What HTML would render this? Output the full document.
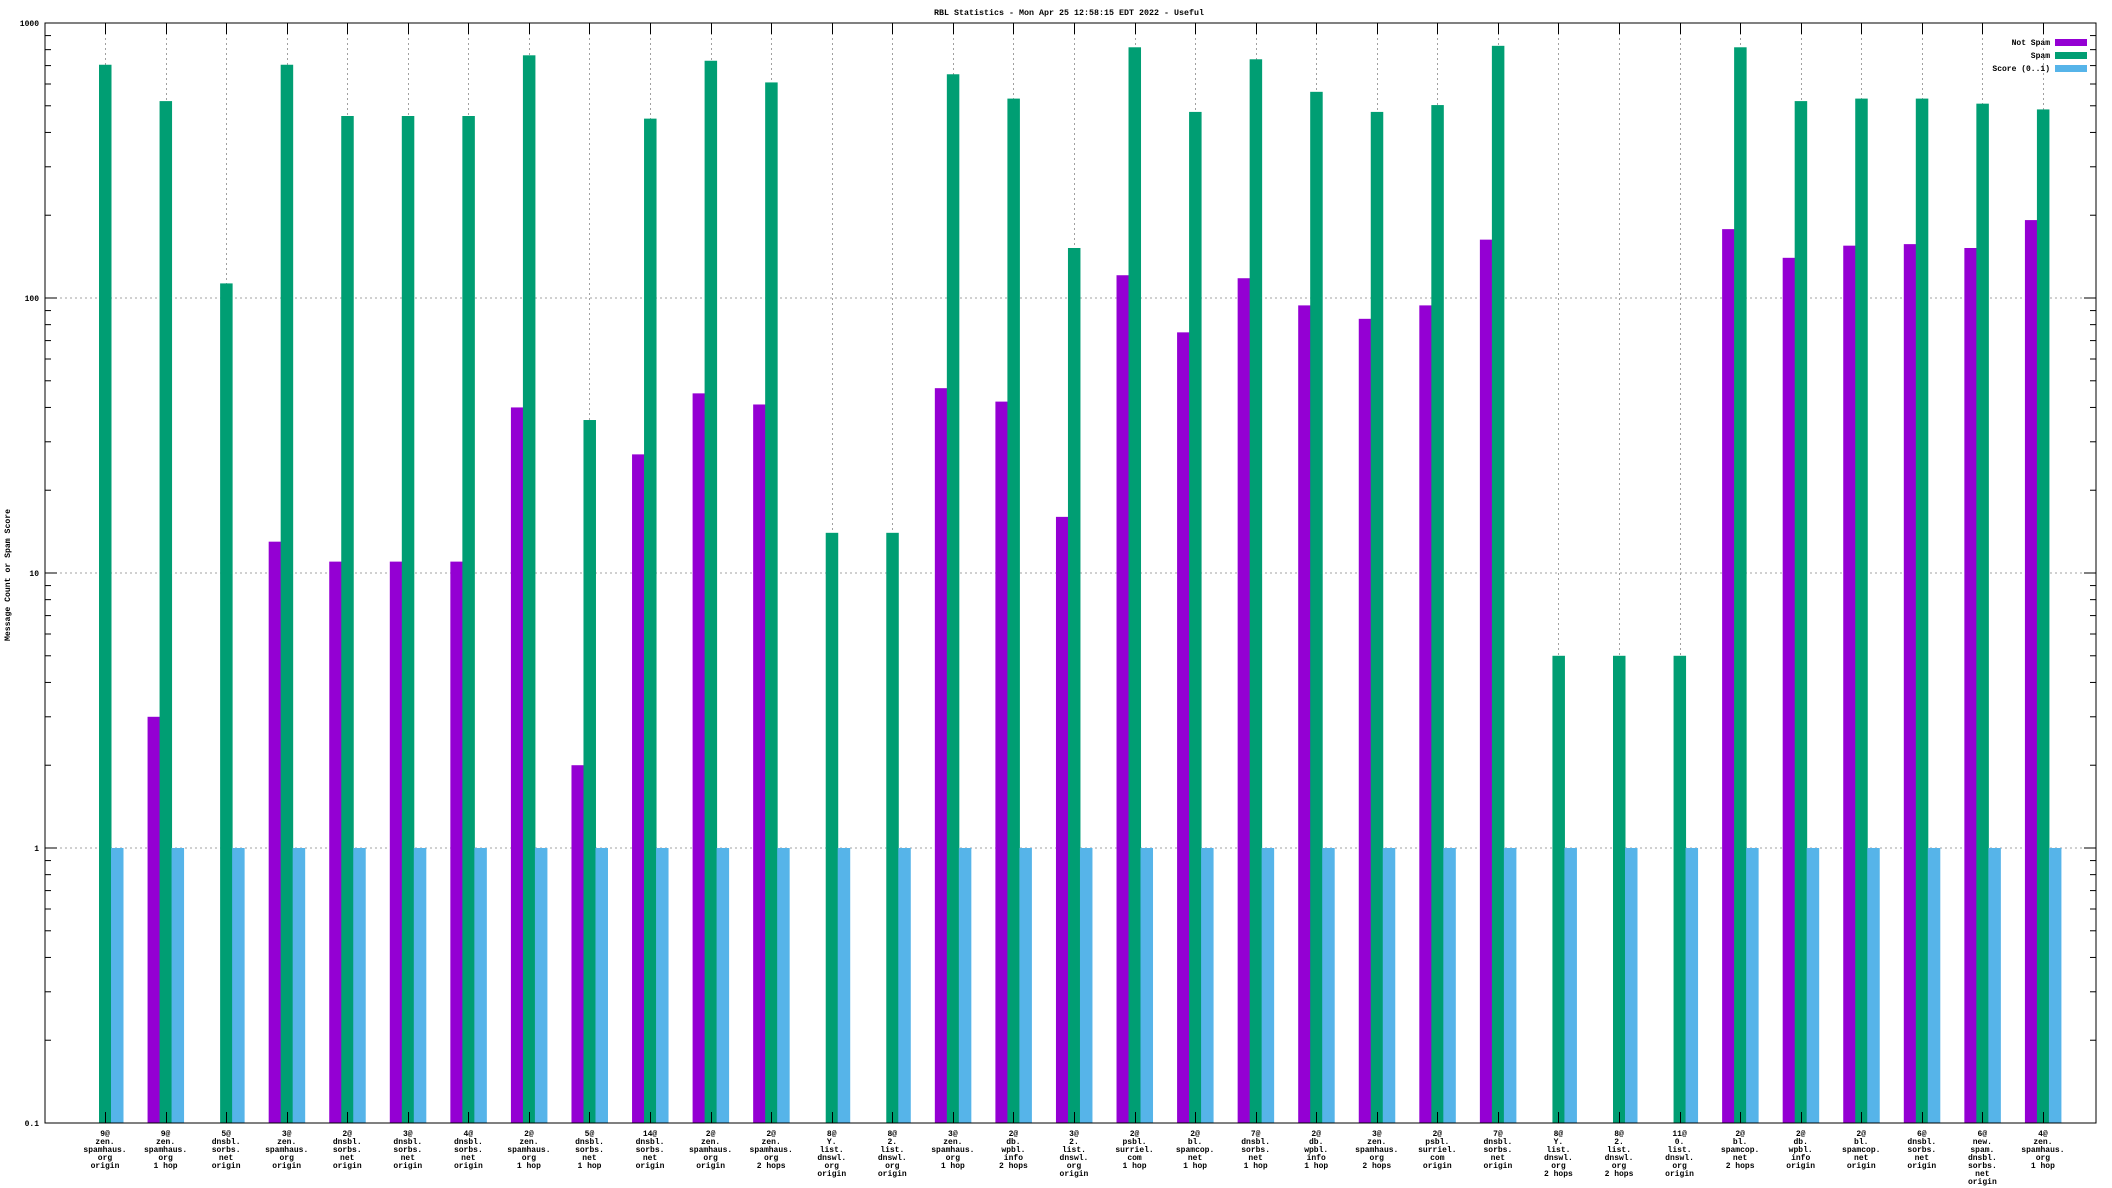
<!DOCTYPE html>
<html><head><meta charset="utf-8"><style>
html,body{margin:0;padding:0;background:#fff;}
svg{display:block;font-family:"Liberation Mono",monospace;}
svg text{font-weight:bold;}
</style></head><body>
<svg id="chart" width="2112" height="1188" viewBox="0 0 2112 1188" xmlns="http://www.w3.org/2000/svg">
<rect x="0" y="0" width="2112" height="1188" fill="#fff"/>
<text x="1069" y="15" font-size="8" text-anchor="middle" textLength="270" lengthAdjust="spacingAndGlyphs">RBL Statistics - Mon Apr 25 12:58:15 EDT 2022 - Useful</text>
<text x="0" y="0" font-size="8" text-anchor="middle" transform="translate(10,575) rotate(-90)" textLength="132" lengthAdjust="spacingAndGlyphs">Message Count or Spam Score</text>
<g id="grid"></g><g id="bars"></g><g id="axes"></g><g id="labels"></g>
<g>
<text x="2050" y="45" font-size="8" text-anchor="end">Not Spam</text>
<rect x="2055" y="39" width="32" height="7" fill="#9400d3"/>
<text x="2050" y="58" font-size="8" text-anchor="end">Spam</text>
<rect x="2055" y="52" width="32" height="7" fill="#009e73"/>
<text x="2050" y="71" font-size="8" text-anchor="end">Score (0..1)</text>
<rect x="2055" y="65" width="32" height="7" fill="#56b4e9"/>
</g>
</svg>
<script>
const categories = [
"9@|zen.|spamhaus.|org|origin","9@|zen.|spamhaus.|org|1 hop","5@|dnsbl.|sorbs.|net|origin","3@|zen.|spamhaus.|org|origin",
"2@|dnsbl.|sorbs.|net|origin","3@|dnsbl.|sorbs.|net|origin","4@|dnsbl.|sorbs.|net|origin","2@|zen.|spamhaus.|org|1 hop",
"5@|dnsbl.|sorbs.|net|1 hop","14@|dnsbl.|sorbs.|net|origin","2@|zen.|spamhaus.|org|origin","2@|zen.|spamhaus.|org|2 hops",
"8@|Y.|list.|dnswl.|org|origin","8@|2.|list.|dnswl.|org|origin","3@|zen.|spamhaus.|org|1 hop","2@|db.|wpbl.|info|2 hops",
"3@|2.|list.|dnswl.|org|origin","2@|psbl.|surriel.|com|1 hop","2@|bl.|spamcop.|net|1 hop","7@|dnsbl.|sorbs.|net|1 hop",
"2@|db.|wpbl.|info|1 hop","3@|zen.|spamhaus.|org|2 hops","2@|psbl.|surriel.|com|origin","7@|dnsbl.|sorbs.|net|origin",
"8@|Y.|list.|dnswl.|org|2 hops","8@|2.|list.|dnswl.|org|2 hops","11@|0.|list.|dnswl.|org|origin","2@|bl.|spamcop.|net|2 hops",
"2@|db.|wpbl.|info|origin","2@|bl.|spamcop.|net|origin","6@|dnsbl.|sorbs.|net|origin","6@|new.|spam.|dnsbl.|sorbs.|net|origin",
"4@|zen.|spamhaus.|org|1 hop"];
const notSpam = [0,3,0,13,11,11,11,40,2,27,45,41,0,0,47,42,16,121,75,118,94,84,94,163,0,0,0,178,140,155,157,152,192];
const spam = [705,520,113,705,459,459,459,763,36,449,729,608,14,14,651,531,152,816,475,738,562,475,503,826,5,5,5,816,520,531,531,509,485];
const score = [1,1,1,1,1,1,1,1,1,1,1,1,1,1,1,1,1,1,1,1,1,1,1,1,1,1,1,1,1,1,1,1,1];
const yTicks = [0.1,1,10,100,1000];
const yTickLabels = ["0.1","1","10","100","1000"];

const NS="http://www.w3.org/2000/svg";
const L=45,R=2096,T=23,B=1123,X0=105,DX=60.56;
const yMin=0.1,yMax=1000;
function yScale(v){return B-(Math.log10(v)-Math.log10(yMin))/(Math.log10(yMax)-Math.log10(yMin))*(B-T);}
function xScale(i){return X0+i*DX;}
function mk(tag,attrs,parent){const e=document.createElementNS(NS,tag);for(const k in attrs)e.setAttribute(k,attrs[k]);parent.appendChild(e);return e;}
const grid=document.getElementById('grid'),bars=document.getElementById('bars'),axes=document.getElementById('axes'),labels=document.getElementById('labels');

yTicks.forEach((v,i)=>{
  const y=yScale(v);
  if(i>0&&i<yTicks.length-1){const g=mk('line',{x1:L,x2:R,y1:y,y2:y,stroke:'#a0a0a0','stroke-width':1,'stroke-dasharray':'2,3'},grid);
  
  }
  const t=mk('text',{x:L-6,y:y+3,'font-size':8,'text-anchor':'end'},labels);
  t.textContent=yTickLabels[i];
  
  
  mk('line',{x1:L,x2:L+12,y1:y,y2:y,stroke:'#000','stroke-width':1},axes);
  mk('line',{x1:R,x2:R-12,y1:y,y2:y,stroke:'#000','stroke-width':1},axes);
  if(i<yTicks.length-1){for(let m=2;m<=9;m++){const ym=yScale(v*m);
    mk('line',{x1:L,x2:L+6,y1:ym,y2:ym,stroke:'#000','stroke-width':1},axes);
    mk('line',{x1:R,x2:R-6,y1:ym,y2:ym,stroke:'#000','stroke-width':1},axes);}}
});

categories.forEach((c,i)=>{
  const x=Math.round(xScale(i))+0.5;
  const g=mk('line',{x1:x,x2:x,y1:T,y2:B,stroke:'#a0a0a0','stroke-width':1,'stroke-dasharray':'2,3'},grid);
  
  
  mk('line',{x1:x,x2:x,y1:T,y2:T+11,stroke:'#000','stroke-width':1},axes);
  mk('line',{x1:x,x2:x,y1:B,y2:B-11,stroke:'#000','stroke-width':1},axes);
  const cx=xScale(i);
  const series=[[notSpam,'#9400d3',-18,'bar-not-spam'],[spam,'#009e73',-6,'bar-spam'],[score,'#56b4e9',6,'bar-score']];
  series.forEach(s=>{const v=s[0][i]; if(!v||v<=yMin)return;
    const y=yScale(v);
    const r=mk('rect',{x:cx+s[2],y:y,width:12.5,height:B-y,fill:s[1]},bars);
    
    });
  const lines=c.split('|');
  const t=mk('text',{x:cx,y:B+13,'font-size':8,'text-anchor':'middle'},labels);
  
  
  lines.forEach((ln,k)=>{const ts=mk('tspan',{x:cx,dy:k?8:0},t);ts.textContent=ln;});
});
const fr=mk('rect',{x:L,y:T,width:R-L,height:B-T,fill:'none',stroke:'#000','stroke-width':1},axes);


</script>
</body></html>
